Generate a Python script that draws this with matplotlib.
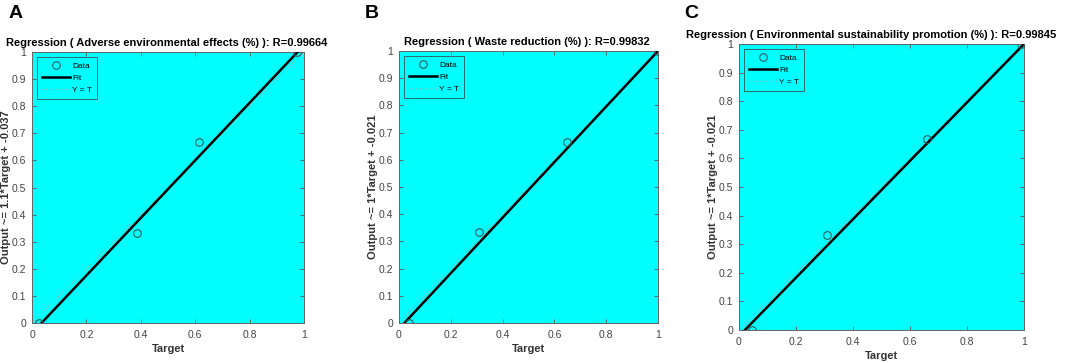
import numpy as np
import matplotlib
matplotlib.use("Agg")
import matplotlib.pyplot as plt

plt.rcParams['font.family'] = ['Liberation Sans', 'DejaVu Sans']

panels = ['A', 'B', 'C']
titles = ['Regression ( Adverse environmental effects (%) ): R=0.99664',
          'Regression ( Waste reduction (%) ): R=0.99832',
          'Regression ( Environmental sustainability promotion (%) ): R=0.99845']
ylabels = ['Output ~= 1.1*Target + -0.037',
           'Output ~= 1*Target + -0.021',
           'Output ~= 1*Target + -0.021']

# data points
target_a = [0.025, 0.385, 0.615, 0.975]
output_a = [0.0, 0.333, 0.667, 1.0]
target_b = [0.04, 0.31, 0.65, 1.0]
output_b = [0.0, 0.333, 0.667, 1.0]
target_c = [0.045, 0.31, 0.66, 0.99]
output_c = [0.0, 0.333, 0.667, 1.0]

# fit lines (slope, intercept)
fit_slope = [1.062, 1.021, 1.021]
fit_icpt = [-0.037, -0.021, -0.021]

targets = [target_a, target_b, target_c]
outputs = [output_a, output_b, output_c]

W, H = 1065, 363
# axes boxes in pixels: left, right, top, bottom
boxes = [(32, 304, 52, 323), (399, 658, 51, 323), (739, 1024, 44, 330)]
letter_pos = [(9, 5), (365, 5), (684, 5)]
title_x = [0.495, 0.495, 0.465]

fig = plt.figure(figsize=(W / 100, H / 100), dpi=100)

for i in range(3):
    l, r, t, b = boxes[i]
    ax = fig.add_axes([l / W, (H - b) / H, (r - l) / W, (b - t) / H])
    ax.set_facecolor('#00ffff')

    xs = np.array([0.0, 1.0])
    ax.plot(targets[i], outputs[i], 'o', mfc='none', mec='#2f5c5c', ms=5.5, mew=0.8,
            label='Data', zorder=4)
    ax.plot(xs, fit_slope[i] * xs + fit_icpt[i], '-', color='black', lw=1.8,
            label='Fit', zorder=3)
    ax.plot(xs, xs, ':', color='#8ab5b5', lw=0.9, label='Y = T', zorder=2)

    ax.set_xlim(0, 1)
    ax.set_ylim(0, 1)
    ax.set_xticks(np.arange(0, 1.01, 0.2))
    ax.set_yticks(np.arange(0, 1.01, 0.1))
    ax.set_xticklabels(['0', '0.2', '0.4', '0.6', '0.8', '1'])
    ax.set_yticklabels(['0'] + ['%.1f' % v for v in np.arange(0.1, 0.95, 0.1)] + ['1'])
    ax.tick_params(direction='in', length=3, width=0.6, labelsize=7.5,
                   colors='#555555', labelcolor='#444444',
                   top=True, right=True)
    ax.tick_params(axis='x', pad=5)
    ax.tick_params(axis='y', pad=4)
    for s in ax.spines.values():
        s.set_color('#666666')
        s.set_linewidth(0.7)

    ax.set_title(titles[i], fontsize=8, fontweight='bold', pad=4, x=title_x[i])
    ax.set_xlabel('Target', fontsize=8, fontweight='bold', color='#333333', labelpad=3)
    ax.set_ylabel(ylabels[i], fontsize=8, fontweight='bold', color='#333333', labelpad=1)

    leg = ax.legend(loc='upper left', fontsize=6, frameon=True, fancybox=False,
                    handlelength=3.4, borderpad=0.6, labelspacing=0.5,
                    handletextpad=0.2, borderaxespad=0.6)
    leg.get_frame().set_facecolor('#00ffff')
    leg.get_frame().set_edgecolor('#335555')
    leg.get_frame().set_linewidth(0.6)
    leg.get_frame().set_alpha(1)

    lx, ly = letter_pos[i]
    fig.text(lx / W, 1 - ly / H, panels[i], fontsize=14, fontweight='bold',
             va='top', ha='left')

fig.savefig('out.png', dpi=100)
